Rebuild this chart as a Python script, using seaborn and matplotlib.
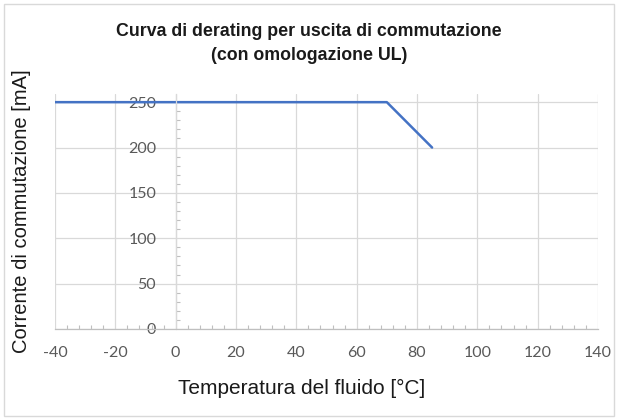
import matplotlib
matplotlib.use("Agg")
import matplotlib.pyplot as plt
import seaborn as sns
import pandas as pd
from matplotlib.ticker import MultipleLocator
from matplotlib.patches import Rectangle

# data
temperature = [-40, 70, 85]
current = [250, 250, 200]

x_ticks = [-40, -20, 0, 20, 40, 60, 80, 100, 120, 140]
y_ticks = [0, 50, 100, 150, 200, 250]

df = pd.DataFrame({"temp": temperature, "current": current})

sns.set_style("white")
plt.rcParams['font.family'] = ['Liberation Sans', 'DejaVu Sans']
plt.rcParams['axes.unicode_minus'] = False

fig = plt.figure(figsize=(6.18, 4.2), dpi=100)
ax = fig.add_axes([55 / 618, 1 - 329 / 420, 543 / 618, 235 / 420])

sns.lineplot(data=df, x="temp", y="current", color="#4472C4", linewidth=1.8, ax=ax)

ax.set_xlim(-40, 140)
ax.set_ylim(0, 259)
ax.set_xticks(x_ticks)
ax.set_yticks(y_ticks)
ax.xaxis.set_minor_locator(MultipleLocator(4))
ax.yaxis.set_minor_locator(MultipleLocator(10))

ax.grid(True, which="major", color="#d9d9d9", linewidth=0.9)
ax.set_axisbelow(True)

for s in ["top", "right"]:
    ax.spines[s].set_visible(False)
ax.spines["left"].set_position(("data", 0))
ax.spines["left"].set_color("#d9d9d9")
ax.spines["bottom"].set_color("#bfbfbf")
ax.spines["left"].set_linewidth(0.9)
ax.spines["bottom"].set_linewidth(0.9)

tick_font = ['Lato', 'DejaVu Sans']
ax.tick_params(axis="x", which="both", bottom=True, direction="in", color="#bfbfbf",
               labelcolor="#595959", labelsize=11.5, pad=12)
ax.tick_params(axis="x", which="major", length=0)
ax.tick_params(axis="x", which="minor", length=3, width=0.8)
ax.tick_params(axis="y", which="both", left=True, direction="in", color="#bfbfbf",
               labelcolor="#595959", labelsize=11.5, pad=14)
ax.tick_params(axis="y", which="major", length=0)
ax.tick_params(axis="y", which="minor", length=3, width=0.8)
for lab in ax.get_xticklabels() + ax.get_yticklabels():
    lab.set_family(tick_font)

ax.set_xlabel("")
ax.set_ylabel("")
fig.text(302 / 618, 1 - 388 / 420, "Temperatura del fluido [°C]",
         ha="center", va="center", fontsize=15, color="#1a1a1a")
fig.text(22 / 618, 1 - 211 / 420, "Corrente di commutazione [mA]", rotation=90,
         ha="center", va="center", fontsize=14.5, color="#1a1a1a")

fig.text(0.5, 1 - 32 / 420, "Curva di derating per uscita di commutazione",
         ha="center", va="center", fontsize=12.8, fontweight="bold", color="#1a1a1a")
fig.text(0.5, 1 - 55 / 420, "(con omologazione UL)",
         ha="center", va="center", fontsize=12.8, fontweight="bold", color="#1a1a1a")

fig.patches.append(Rectangle((4 / 618, 4 / 420), 610 / 618, 412 / 420,
                             transform=fig.transFigure, fill=False,
                             edgecolor="#d9d9d9", linewidth=1))

fig.savefig("out.png", dpi=100)
